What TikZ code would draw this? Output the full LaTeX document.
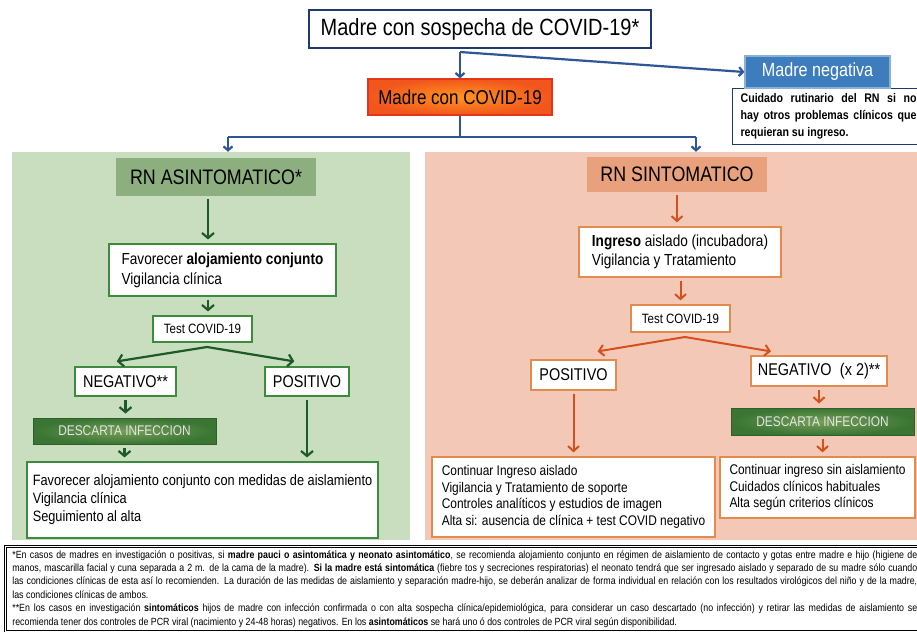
\documentclass[tikz,border=0pt]{standalone}
\usepackage[dvipsnames]{xcolor}
\usepackage{fontspec}
\setmainfont{Liberation Sans}[FakeStretch=0.85]
\usepackage{tikz}
\usetikzlibrary{arrows.meta}
\definecolor{azulosc}{HTML}{1F3A6E}
\definecolor{azulflecha}{HTML}{2E5597}
\definecolor{azulneg}{HTML}{3E7DBD}
\definecolor{naranjaclaro}{HTML}{FF9422}
\definecolor{naranjaosc}{HTML}{F2561C}
\definecolor{rojoborde}{HTML}{E2361B}
\definecolor{verdefondo}{HTML}{C9DDBF}
\definecolor{verdetit}{HTML}{8DAF80}
\definecolor{verdeosc}{HTML}{1C5A28}
\definecolor{verdeborde}{HTML}{3D8B3D}
\definecolor{verdedesc}{HTML}{3A7534}
\definecolor{verdedescclaro}{HTML}{76A058}
\definecolor{rosafondo}{HTML}{F4C8B7}
\definecolor{rosatit}{HTML}{E9A07C}
\definecolor{naranjaflecha}{HTML}{D4511C}
\definecolor{naranjaborde}{HTML}{E38A4F}

\begin{document}
\begin{tikzpicture}[x=1pt, y=-1pt,
    caja/.style={draw, fill=white, line width=1.2pt},
    vcaja/.style={caja, draw=verdeborde},
    ncaja/.style={caja, draw=naranjaborde},
    titulo/.style={inner sep=0pt, font=\fontsize{21}{25}\selectfont},
    panel/.style={inner sep=0pt},
    descarta/.style={draw=verdedesc!80!black, line width=1pt, inner color=verdedescclaro,
        outer color=verdedesc, text=white!90!black, font=\fontsize{14}{16}\selectfont},
    aflecha/.style={draw=azulflecha, line width=2.2pt, -{Straight Barb[length=4pt,width=9pt]}},
    vflecha/.style={draw=verdeosc, line width=2.2pt, -{Straight Barb[length=5pt,width=12pt]},
        shorten <=3pt, shorten >=4pt},
    nflecha/.style={draw=naranjaflecha, line width=2pt, -{Straight Barb[length=5pt,width=11pt]},
        shorten <=3pt, shorten >=4pt}]
    \useasboundingbox (0,0) rectangle (917,633);
    \clip (0,0) rectangle (917,633);
    \fill[white] (0,0) rectangle (917,633);
    %%Madre
    \node[caja, draw=azulosc, minimum width=342pt, minimum height=38pt,
        font=\fontsize{23.5}{28}\selectfont] (sospecha) at (480,29) {Madre con sospecha de COVID-19*};
    \node[caja, draw=rojoborde, inner color=naranjaclaro, outer color=naranjaosc,
        minimum width=184pt, minimum height=36pt, font=\fontsize{20}{24}\selectfont]
        (madrecovid) at (460,97) {Madre con COVID-19};
    \node[caja, draw=azulosc, anchor=north west, text width=176pt, align=justify,
        inner xsep=8pt, inner ysep=5pt, font=\bfseries\fontsize{12.5}{17}\selectfont]
        (cuidado) at (732,88) {Cuidado rutinario del RN si no\linebreak hay otros problemas clínicos que\linebreak requieran su ingreso.};
    \node[caja, draw=azulneg!60!white, fill=azulneg, text=white, minimum width=145pt,
        minimum height=32pt, font=\fontsize{19}{23}\selectfont] (negativa) at (817.5,72) {Madre negativa};
    \coordinate (ramal) at (460,52);
    \coordinate (barizq) at (228,137);
    \coordinate (barder) at (696,137);
    \draw[aflecha] (ramal -| madrecovid.north) -- (madrecovid.north);
    \draw[aflecha] (ramal) -- (negativa.west);
    \draw[azulflecha, line width=2.2pt] (madrecovid.south) -- (madrecovid.south |- barizq);
    \draw[azulflecha, line width=2.2pt] (barizq) -- (barder);
    %%Paneles
    \node[panel, fill=verdefondo, minimum width=398pt, minimum height=388pt] (verde) at (211,346) {};
    \node[panel, fill=rosafondo, minimum width=500pt, minimum height=388pt] (rosa) at (675,346) {};
    \draw[aflecha] (barizq) -- (barizq |- verde.north);
    \draw[aflecha] (barder) -- (barder |- rosa.north);
    %%RN asintomatico
    \coordinate (ejeizq) at (208,0);
    \node[titulo, fill=verdetit, minimum width=200pt, minimum height=38pt] (asinto) at (216,177) {RN ASINTOMATICO*};
    \node[vcaja, minimum width=227pt, minimum height=52pt, align=left,
        font=\fontsize{16}{20}\selectfont] (lfav) at (222.5,270) {Favorecer \textbf{alojamiento conjunto}\\Vigilancia clínica};
    \node[vcaja, minimum width=99pt, minimum height=26pt, font=\fontsize{13.5}{16}\selectfont] (ltest) at (202.5,329) {Test COVID-19};
    \node[vcaja, minimum width=101pt, minimum height=29pt, font=\fontsize{17}{20}\selectfont] (lneg) at (125.5,381.5) {NEGATIVO**};
    \node[vcaja, minimum width=84pt, minimum height=29pt, font=\fontsize{17}{20}\selectfont] (lpos) at (307,381.5) {POSITIVO};
    \node[descarta, minimum width=183pt, minimum height=26pt] (ldesc) at (124.5,431) {DESCARTA INFECCION};
    \node[vcaja, minimum width=351pt, minimum height=76pt, align=left, font=\fontsize{15}{18}\selectfont]
        (lfin) at (202.5,500) {Favorecer alojamiento conjunto con medidas de aislamiento\\Vigilancia clínica\\Seguimiento al alta};
    \coordinate (lsplit) at (207,347);
    \draw[vflecha] (asinto.south -| ejeizq) -- (lfav.north -| ejeizq);
    \draw[vflecha] (lfav.south -| ejeizq) -- (ltest.north -| ejeizq);
    \draw[vflecha, shorten <=0pt, shorten >=0pt] (lsplit) -- ([yshift=5pt]lneg.120);
    \draw[vflecha, shorten <=0pt, shorten >=0pt] (lsplit) -- ([yshift=5pt]lpos.130);
    \draw[vflecha] (lneg.south) -- (lneg.south |- ldesc.north);
    \draw[vflecha] (ldesc.south) -- (ldesc.south |- lfin.north);
    \draw[vflecha] (lpos.south) -- (lpos.south |- lfin.north);
    %%RN sintomatico
    \node[titulo, fill=rosatit, minimum width=180pt, minimum height=35pt] (sinto) at (677,174.5) {RN SINTOMATICO};
    \node[ncaja, minimum width=202pt, minimum height=50pt, align=left,
        font=\fontsize{16}{19}\selectfont] (ring) at (680,252) {\textbf{Ingreso} aislado (incubadora)\\Vigilancia y Tratamiento};
    \node[ncaja, minimum width=99pt, minimum height=27pt, font=\fontsize{13.5}{16}\selectfont] (rtest) at (680.5,318.5) {Test COVID-19};
    \node[ncaja, minimum width=85pt, minimum height=30pt, font=\fontsize{17}{20}\selectfont] (rpos) at (573.5,375) {POSITIVO};
    \node[ncaja, minimum width=136pt, minimum height=30pt, font=\fontsize{17}{20}\selectfont] (rneg) at (819,371) {NEGATIVO\enspace(x 2)**};
    \node[descarta, minimum width=183pt, minimum height=27pt] (rdesc) at (822.5,421.5) {DESCARTA INFECCION};
    \node[ncaja, minimum width=283pt, minimum height=80pt, align=left, font=\fontsize{14}{16.7}\selectfont]
        (rfin1) at (573.5,497) {Continuar Ingreso aislado\\Vigilancia y Tratamiento de soporte\\Controles analíticos y estudios de imagen\\Alta si: ausencia de clínica + test COVID negativo};
    \node[ncaja, minimum width=195pt, minimum height=61pt, align=left, font=\fontsize{14}{16.7}\selectfont]
        (rfin2) at (817.5,487.5) {Continuar ingreso sin aislamiento\\Cuidados clínicos habituales\\Alta según criterios clínicos};
    \coordinate (rsplit) at (685,337);
    \draw[nflecha] (sinto.south) -- (sinto.south |- ring.north);
    \draw[nflecha] (rtest.north |- ring.south) -- (rtest.north);
    \draw[nflecha, shorten <=0pt, shorten >=0pt] (rsplit) -- ([yshift=8pt]rpos.33);
    \draw[nflecha, shorten <=0pt, shorten >=0pt] (rsplit) -- ([yshift=4pt]rneg.162);
    \draw[nflecha] (rneg.south) -- (rneg.south |- rdesc.north);
    \draw[nflecha] (rdesc.south) -- (rdesc.south |- rfin2.north);
    \draw[nflecha] (rpos.south) -- (rpos.south |- rfin1.north);
    %%Notas
    \node[draw, double, line width=0.7pt, double distance=1.2pt, fill=white, anchor=north west,
        text width=905pt, align=justify, inner xsep=7pt, inner ysep=4pt,
        font=\fontsize{10.4}{13.4}\selectfont] (nota) at (5,546)
        {*En casos de madres en investigación o positivas, si \textbf{madre pauci o asintomática y neonato asintomático}, se recomienda alojamiento conjunto en régimen de aislamiento de contacto y gotas entre madre e hijo (higiene de\linebreak
        manos, mascarilla facial y cuna separada a 2 m. de la cama de la madre). \textbf{Si la madre está sintomática} (fiebre tos y secreciones respiratorias) el neonato tendrá que ser ingresado aislado y separado de su madre sólo cuando\linebreak
        las condiciones clínicas de esta así lo recomienden. La duración de las medidas de aislamiento y separación madre-hijo, se deberán analizar de forma individual en relación con los resultados virológicos del niño y de la madre,\linebreak
        las condiciones clínicas de ambos.\par
        **En los casos en investigación \textbf{sintomáticos} hijos de madre con infección confirmada o con alta sospecha clínica/epidemiológica, para considerar un caso descartado (no infección) y retirar las medidas de aislamiento se\linebreak
        recomienda tener dos controles de PCR viral (nacimiento y 24-48 horas) negativos. En los \textbf{asintomáticos} se hará uno ó dos controles de PCR viral según disponibilidad.};
\end{tikzpicture}
\end{document}
